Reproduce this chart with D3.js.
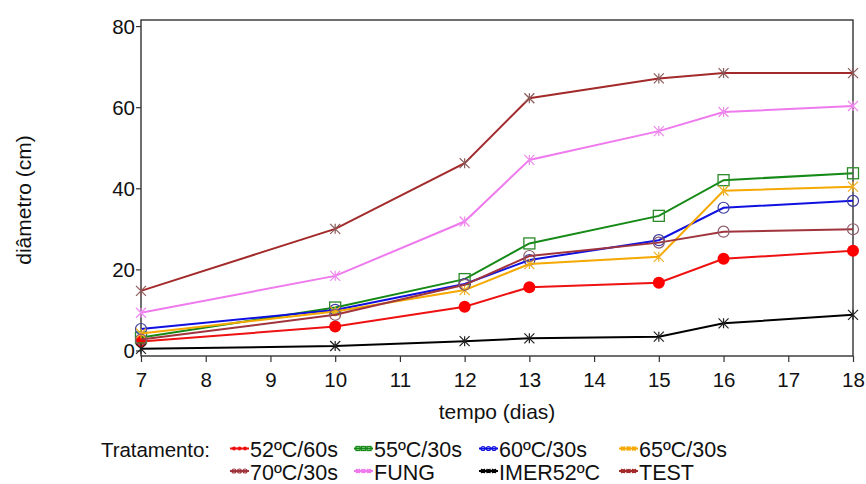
<!DOCTYPE html>
<html>
<head>
<meta charset="utf-8">
<title>diametro</title>
<script src="https://d3js.org/d3.v7.min.js"></script>
<style>
  body { margin: 0; background: #fff; }
  text { font-family: "Liberation Sans", Arial, sans-serif; fill: #111; }
</style>
</head>
<body>
<svg id="chart" width="866" height="484"></svg>
<script>
// tempo (dias)
const dias = [7, 10, 12, 13, 15, 16, 18]
const xTicks = [7, 8, 9, 10, 11, 12, 13, 14, 15, 16, 17, 18]
const yTicks = [0, 20, 40, 60, 80]

const s52_60 = [2.2, 5.9, 10.8, 15.6, 16.7, 22.6, 24.6]
const s55_30 = [3.2, 10.6, 17.6, 26.4, 33.2, 42.0, 43.7]
const s60_30 = [5.3, 10.0, 16.4, 22.3, 27.2, 35.2, 36.9]
const s65_30 = [4.2, 9.6, 14.9, 21.3, 23.1, 39.4, 40.4]
const s70_30 = [2.7, 8.8, 16.2, 23.3, 26.6, 29.3, 29.9]
const sFung = [9.3, 18.4, 31.8, 47.0, 54.1, 58.8, 60.3]
const sImer = [0.4, 1.1, 2.3, 3.0, 3.4, 6.7, 8.8]
const sTest = [14.7, 30.0, 46.2, 62.2, 67.1, 68.4, 68.4]

const series = [
  {name: "52ºC/60s", values: s52_60, color: "#ee1111", mcolor: "#ff0000", marker: "dot"},
  {name: "55ºC/30s", values: s55_30, color: "#168a16", mcolor: "#2a8a2a", marker: "square"},
  {name: "60ºC/30s", values: s60_30, color: "#1010e0", mcolor: "#3a3a9a", marker: "circle"},
  {name: "65ºC/30s", values: s65_30, color: "#f5a800", mcolor: "#f0b020", marker: "star"},
  {name: "70ºC/30s", values: s70_30, color: "#a0343c", mcolor: "#8a5a6a", marker: "circle"},
  {name: "FUNG", values: sFung, color: "#ee7aee", mcolor: "#ee8aee", marker: "star"},
  {name: "IMER52ºC", values: sImer, color: "#000000", mcolor: "#222222", marker: "star"},
  {name: "TEST", values: sTest, color: "#a32a2a", mcolor: "#8a5a5a", marker: "star"}
]

const svg = d3.select('#chart')
const pLeft = 141, pRight = 853, pTop = 20, pBottom = 356

const x = d3.scaleLinear().domain([7, 18]).range([pLeft, pRight])
const y = d3.scaleLinear().domain([-1.36, 81.5]).range([pBottom, pTop])

// frame
svg.append('rect')
  .attr('x', pLeft).attr('y', pTop)
  .attr('width', pRight - pLeft).attr('height', pBottom - pTop)
  .attr('fill', 'none').attr('stroke', '#222').attr('stroke-width', 1.3)

// axes
let xAxis = svg.append('g')
  .attr('transform', `translate(0,${pBottom})`)
  .call(d3.axisBottom(x).tickValues(xTicks).tickFormat(d3.format('d')).tickSize(6).tickPadding(10))
let yAxis = svg.append('g')
  .attr('transform', `translate(${pLeft},0)`)
  .call(d3.axisLeft(y).tickValues(yTicks).tickSize(5).tickPadding(1))
for (let ax of [xAxis, yAxis]) {
  ax.select('.domain').remove()
  ax.selectAll('line').attr('stroke', '#333').attr('stroke-width', 1.2)
  ax.selectAll('text').attr('font-size', 20.5).style('fill', '#111')
    .attr('font-family', '"Liberation Sans", Arial, sans-serif')
}
xAxis.selectAll('text').attr('dy', '0.75em')
yAxis.selectAll('text').attr('dy', '0.36em')

// labels
svg.append('text')
  .attr('x', (pLeft + pRight) / 2).attr('y', 419)
  .attr('text-anchor', 'middle').attr('font-size', 21)
  .text('tempo (dias)')
svg.append('text')
  .attr('transform', 'translate(31,200) rotate(-90)')
  .attr('text-anchor', 'middle').attr('font-size', 21)
  .text('diâmetro (cm)')

function drawMarker(g, type, cx, cy, color, r) {
  if (type === 'dot') {
    g.append('circle').attr('cx', cx).attr('cy', cy).attr('r', r)
      .attr('fill', color)
  } else if (type === 'circle') {
    g.append('circle').attr('cx', cx).attr('cy', cy).attr('r', r)
      .attr('fill', 'none').attr('stroke', color).attr('stroke-width', 1.2)
  } else if (type === 'square') {
    g.append('rect').attr('x', cx - r).attr('y', cy - r)
      .attr('width', 2 * r).attr('height', 2 * r)
      .attr('fill', 'none').attr('stroke', color).attr('stroke-width', 1.3)
  } else {
    let p = `M${cx - r},${cy - r}L${cx + r},${cy + r}M${cx - r},${cy + r}L${cx + r},${cy - r}M${cx},${cy - r}L${cx},${cy + r}`
    g.append('path').attr('d', p).attr('stroke', color).attr('stroke-width', 1.2).attr('fill', 'none')
  }
}

const markerSize = {dot: 6, circle: 5.5, square: 5.5, star: 5}
const line = d3.line().x(d => x(d[0])).y(d => y(d[1]))

for (let s of series) {
  let pts = dias.map((d, i) => [d, s.values[i]])
  let g = svg.append('g')
  g.append('path').attr('d', line(pts))
    .attr('fill', 'none').attr('stroke', s.color).attr('stroke-width', 2)
  for (let p of pts) {
    drawMarker(g, s.marker, x(p[0]), y(p[1]), s.mcolor, markerSize[s.marker])
  }
}

// legend
let lg = svg.append('g')
lg.append('text').attr('x', 101).attr('y', 457).attr('font-size', 20.5)
  .attr('textLength', 109).text('Tratamento:')
const legX = [230, 354, 479, 619]
series.forEach((s, i) => {
  let lx = legX[i % 4], base = i < 4 ? 457 : 479.5, ly = base - 8.5
  lg.append('line').attr('x1', lx).attr('x2', lx + 19).attr('y1', ly).attr('y2', ly)
    .attr('stroke', s.color).attr('stroke-width', 2)
  for (let k = 0; k < 3; k++) {
    drawMarker(lg, s.marker, lx + 4 + k * 5.5, ly, s.color, 2)
  }
  lg.append('text').attr('x', lx + 20).attr('y', base).attr('font-size', 21.5).text(s.name)
})
</script>
</body>
</html>
